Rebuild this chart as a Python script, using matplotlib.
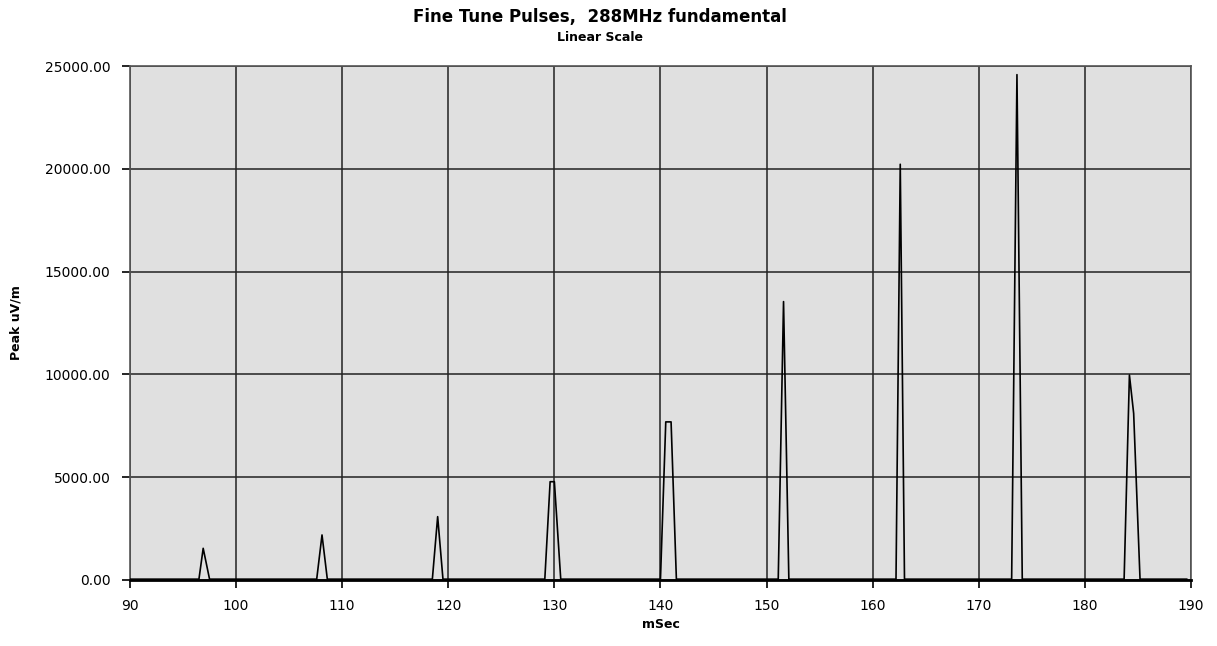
import matplotlib.pyplot as plt

# pulse trace vertices: time (ms) and peak field strength (uV/m)
msec = [90.0, 96.5, 96.9, 97.5,
        107.6, 108.1, 108.6,
        118.5, 119.0, 119.5,
        129.1, 129.6, 130.0, 130.6,
        140.0, 140.5, 141.0, 141.5,
        151.1, 151.6, 152.1,
        162.2, 162.6, 163.0,
        173.1, 173.6, 174.1,
        183.7, 184.2, 184.6, 185.2, 189.6]
peak_uv = [40, 40, 1540, 40,
           40, 2190, 40,
           40, 3080, 40,
           40, 4780, 4780, 40,
           40, 7690, 7690, 40,
           40, 13540, 40,
           40, 20220, 40,
           40, 24580, 40,
           40, 9970, 8100, 40, 40]

x_ticks = list(range(90, 191, 10))
y_ticks = [0, 5000, 10000, 15000, 20000, 25000]

fig = plt.figure(figsize=(12.17, 6.46), dpi=100)
ax = fig.add_axes([0.1068, 0.1022, 0.8718, 0.7956])
ax.set_facecolor('#e0e0e0')

ax.plot(msec, peak_uv, color='black', linewidth=1.2, zorder=3)

ax.set_xlim(90, 190)
ax.set_ylim(0, 25000)
ax.set_xticks(x_ticks)
ax.set_yticks(y_ticks)
ax.set_yticklabels(['%.2f' % v for v in y_ticks])
ax.grid(True, color='#222222', linewidth=1.1)
ax.set_axisbelow(True)

for s in ax.spines.values():
    s.set_color('#555555')
    s.set_linewidth(1.2)
ax.spines['bottom'].set_color('black')
ax.spines['bottom'].set_linewidth(2)

ax.tick_params(direction='out', length=6, width=1.2, colors='black',
               labelsize=10, pad=8)

ax.set_xlabel('mSec', fontsize=9, fontweight='bold', labelpad=3)
ax.set_ylabel('Peak uV/m', fontsize=9, fontweight='bold', labelpad=16)

fig.text(0.493, 0.973, 'Fine Tune Pulses,  288MHz fundamental',
         ha='center', va='center', fontsize=12, fontweight='bold')
fig.text(0.493, 0.942, 'Linear Scale', ha='center', va='center',
         fontsize=9, fontweight='bold')

fig.savefig('out.png', dpi=100)
